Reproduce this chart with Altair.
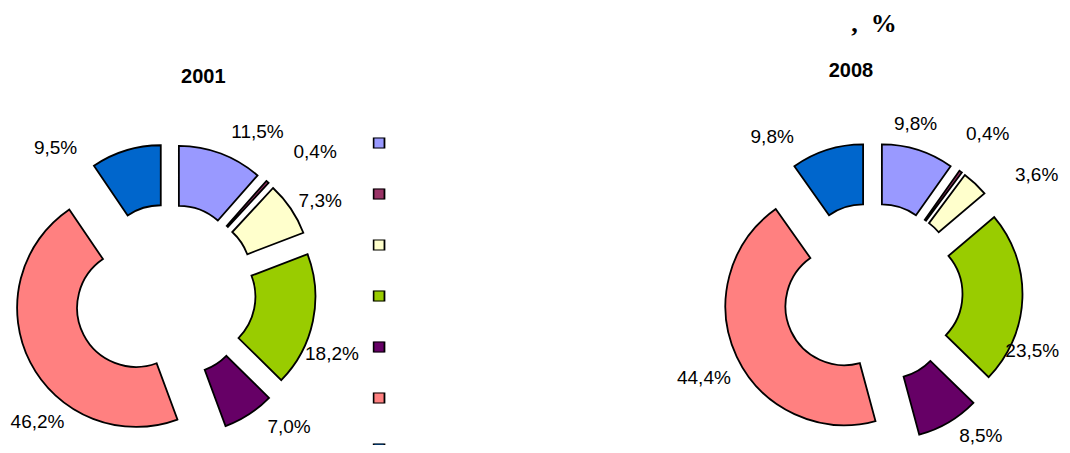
import math
import altair as alt
import pandas as pd

# ---------------- data ----------------
categories = ["A", "B", "C", "D", "E", "F", "G"]
years = [2001, 2008]
values_2001 = [11.5, 0.4, 7.3, 18.2, 7.0, 46.2, 9.5]
values_2008 = [9.8, 0.4, 3.6, 23.5, 8.5, 44.4, 9.8]
main_title = ",\u00a0\u00a0%"

# ---------------- style / layout ----------------
colors = ["#9999FF", "#993366", "#FFFFCC", "#99CC00", "#660066", "#FF8080", "#0066CC"]
W, H = 1054, 437
center_x = {2001: 161.0, 2008: 864.5}
center_y = {2001: 283.0, 2008: 285.0}
explode = {2001: [28, 28, 28, 28, 28, 37, 28], 2008: [31, 31, 31, 31, 31, 31, 31]}
label_r = {2001: [154, 174, 148, 147, 154, 151, 157], 2008: [143, 165, 172, 141, 149, 158, 156]}
label_turn = {2001: [10, 5, 4, 11, -10, -22, -25], 2008: [-4, 0, 13, 22, -8, -2, -18]}
title_pos = {2001: (195.3, 68.7), 2008: (843.0, 63.0)}
R_OUT, R_IN = 119, 59

rows = []
values = {2001: values_2001, 2008: values_2008}
for y in years:
    for i, c in enumerate(categories):
        rows.append({
            "year": y, "cat": c, "order": i, "value": values[y][i],
            "cx": center_x[y], "cy": center_y[y], "ex": explode[y][i],
            "lr": label_r[y][i], "lt": label_turn[y][i],
        })
df = pd.DataFrame(rows)

base = alt.Chart(df).transform_joinaggregate(
    total="sum(value)", groupby=["year"]
).transform_window(
    cum="sum(value)", sort=[alt.SortField("order")], groupby=["year"], frame=[None, 0]
).transform_calculate(
    f1="datum.cum / datum.total",
    f0="(datum.cum - datum.value) / datum.total",
).transform_calculate(
    mid="PI * (datum.f0 + datum.f1)",
).transform_calculate(
    sx="datum.cx + datum.ex * sin(datum.mid)",
    sy="datum.cy - datum.ex * cos(datum.mid)",
).transform_calculate(
    lx="datum.sx + datum.lr * sin(datum.mid + datum.lt * PI / 180)",
    ly="datum.sy - datum.lr * cos(datum.mid + datum.lt * PI / 180)",
    label="replace(format(datum.value, '.1f'), '.', ',') + '%'",
)

arcs = base.mark_arc(
    outerRadius=R_OUT, innerRadius=R_IN, stroke="black", strokeWidth=1.8
).encode(
    theta=alt.Theta("f0:Q", scale=alt.Scale(domain=[0, 1], range=[0, 2 * math.pi])),
    theta2=alt.Theta2("f1:Q"),
    x=alt.X("sx:Q", scale=None),
    y=alt.Y("sy:Q", scale=None),
    color=alt.Color(
        "cat:N",
        scale=alt.Scale(domain=categories, range=colors),
        legend=alt.Legend(
            orient="none", legendX=364.5, legendY=129.5, title=None,
            labelExpr="''", symbolType="square", symbolSize=120,
            symbolStrokeColor="black", symbolStrokeWidth=1.8,
            rowPadding=39, padding=0, labelFontSize=11, clipHeight=11,
        ),
    ),
)

labels = base.mark_text(
    font="Liberation Sans", fontSize=19, color="black", align="center", baseline="middle"
).encode(
    x=alt.X("lx:Q", scale=None),
    y=alt.Y("ly:Q", scale=None),
    text="label:N",
)

tdf = pd.DataFrame({
    "t": [str(y) for y in years],
    "x": [title_pos[y][0] for y in years],
    "y": [title_pos[y][1] for y in years],
})
titles = alt.Chart(tdf).mark_text(
    font="Liberation Sans", fontSize=20, fontWeight="bold", color="black",
    align="center", baseline="middle"
).encode(x=alt.X("x:Q", scale=None), y=alt.Y("y:Q", scale=None), text="t:N")

main = alt.Chart(pd.DataFrame({"t": [main_title]})).mark_text(
    font="Liberation Serif", fontSize=26, fontWeight="bold", color="black",
    align="center", baseline="alphabetic"
).encode(x=alt.value(866), y=alt.value(24), text="t:N")

chart = alt.layer(arcs, labels, titles, main).properties(
    width=W, height=H, autosize=alt.AutoSizeParams(type="none"), padding=0
).configure_view(stroke=None)

chart.save("out.html", embed_options={"renderer": "svg", "actions": False})
